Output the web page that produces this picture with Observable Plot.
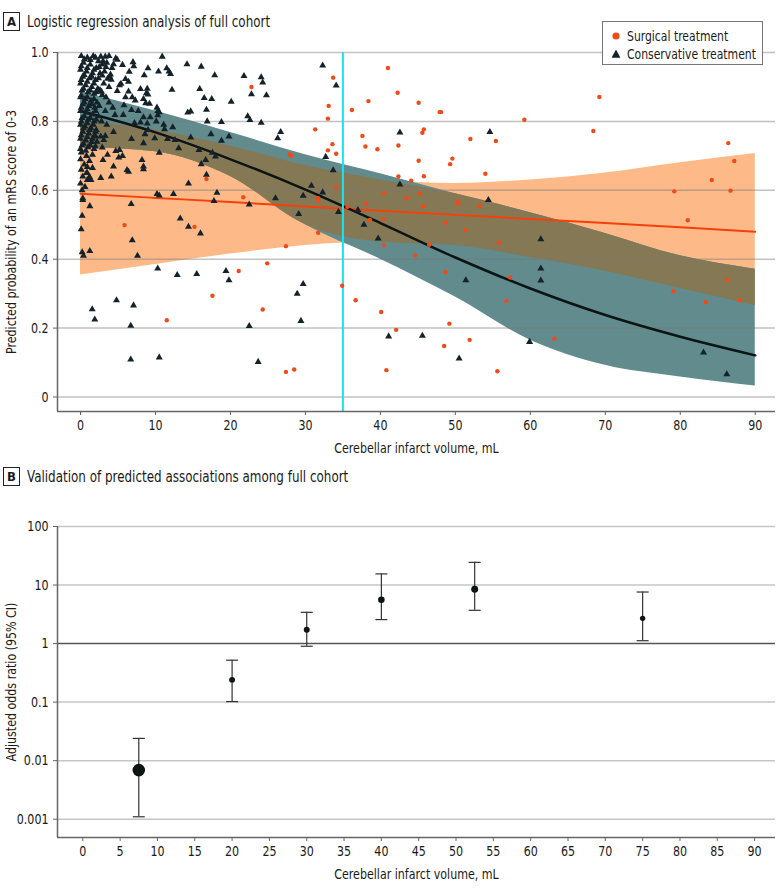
<!DOCTYPE html>
<html>
<head>
<meta charset="utf-8">
<script src="https://cdn.jsdelivr.net/npm/d3@7"></script>
<script src="https://cdn.jsdelivr.net/npm/@observablehq/plot@0.6"></script>
<style>
  body { margin: 0; background: #fff; }
  #page { position: relative; width: 780px; height: 892px; overflow: hidden;
          font-family: "Liberation Sans Narrow", "DejaVu Sans Condensed", Roboto, sans-serif; color: #1a1a1a; }
  .ptitle { position: absolute; left: 3px; display: flex; align-items: center; font-size: 15px; white-space: nowrap; }
  .ptitle .tag { box-sizing: border-box; width: 17px; height: 19px; border: 1.5px solid #222; font-weight: bold;
                 font-size: 13px; display: flex; align-items: center; justify-content: center; margin-right: 7px; }
  .ptitle .txt { display: inline-block; transform: scaleX(0.885); transform-origin: left center; }
  #legend { position: absolute; left: 602px; top: 21px; width: 161px; height: 44px; box-sizing: border-box;
            border: 1px solid #777; background: #fff; font-size: 14px; }
  #legend .row { position: absolute; left: 7px; display: flex; align-items: center; white-space: nowrap; }
  #legend .row span { display: inline-block; transform: scaleX(0.86); transform-origin: left center; }
  #legend svg { margin-right: 5px; }
  .chart { position: absolute; left: 0; }
</style>
</head>
<body>
<div id="page">
  <div class="ptitle" style="top:12px"><span class="tag">A</span><span class="txt">Logistic regression analysis of full cohort</span></div>
  <div class="chart" id="chartA" style="top:40px"></div>
  <div id="legend">
    <div class="row" style="top:6px"><svg width="12" height="12"><circle cx="6" cy="6" r="3.6" fill="#f04a18"></circle></svg><span>Surgical treatment</span></div>
    <div class="row" style="top:24px"><svg width="12" height="12"><path d="M6,1.6L10.4,9.8L1.6,9.8Z" fill="#14222a"></path></svg><span>Conservative treatment</span></div>
  </div>
  <div class="ptitle" style="top:467px"><span class="tag">B</span><span class="txt">Validation of predicted associations among full cohort</span></div>
  <div class="chart" id="chartB" style="top:506px"></div>
</div>
<script>
// ---------------- Panel A data ----------------
const xTicksA = [0, 10, 20, 30, 40, 50, 60, 70, 80, 90];
const yTicksA = [0, 0.2, 0.4, 0.6, 0.8, 1.0];
const xDomainA = [-3.07, 92.7];
const yDomainA = [-0.042, 1.0];
const thresholdVolume = 35;

const curveX = [0, 10, 20, 30, 40, 50, 60, 70, 80, 90];
const surgicalFit   = [0.590, 0.578, 0.566, 0.553, 0.541, 0.529, 0.517, 0.505, 0.493, 0.480];
const surgicalLower = [0.354, 0.385, 0.415, 0.440, 0.450, 0.440, 0.405, 0.365, 0.315, 0.265];
const surgicalUpper = [0.800, 0.775, 0.728, 0.672, 0.630, 0.620, 0.630, 0.650, 0.680, 0.707];
const conservativeFit   = [0.830, 0.768, 0.690, 0.602, 0.505, 0.405, 0.315, 0.238, 0.175, 0.121];
const conservativeLower = [0.725, 0.712, 0.640, 0.500, 0.400, 0.290, 0.165, 0.092, 0.058, 0.032];
const conservativeUpper = [0.885, 0.830, 0.768, 0.703, 0.648, 0.590, 0.535, 0.475, 0.410, 0.371];

const surgicalPoints = [
  [22.8,0.90],[27.9,0.705],[28.1,0.70],[16.8,0.633],[21.7,0.58],[15.2,0.494],[27.4,0.438],[24.9,0.388],
  [21.1,0.366],[17.6,0.294],[24.3,0.254],[27.4,0.073],[28.5,0.08],[5.87,0.499],[11.5,0.223],
  [41.0,0.955],[33.7,0.927],[42.3,0.883],[38.4,0.859],[45.1,0.854],[36.2,0.833],[33.1,0.845],[33.0,0.808],
  [47.9,0.827],[48.1,0.827],[59.2,0.805],[31.3,0.777],[45.8,0.777],[45.6,0.767],[37.6,0.758],[52.0,0.749],
  [55.4,0.743],[33.6,0.734],[38.0,0.727],[42.4,0.73],[33.0,0.716],[39.6,0.719],[34.1,0.706],[49.6,0.692],
  [49.3,0.676],[45.1,0.686],[54.0,0.648],[42.4,0.64],[45.8,0.641],[44.1,0.628],[34.1,0.608],[40.5,0.591],
  [45.2,0.591],[31.7,0.577],[31.7,0.57],[43.5,0.577],[38.1,0.562],[50.3,0.567],[50.4,0.561],[45.8,0.554],
  [53.2,0.555],[35.6,0.552],
  [38.6,0.514],[40.4,0.517],[48.7,0.506],[31.7,0.477],[51.3,0.485],[40.5,0.441],[46.5,0.442],[55.8,0.448],
  [44.6,0.411],[48.7,0.362],[57.3,0.347],[34.9,0.323],[36.7,0.281],[56.8,0.279],[40.1,0.247],[49.2,0.213],
  [42.1,0.195],[51.9,0.166],[48.5,0.148],[40.8,0.078],[55.6,0.075],
  [69.2,0.871],[68.4,0.772],[86.4,0.737],[87.2,0.685],[84.2,0.63],[79.2,0.597],[86.7,0.599],[81.0,0.513],
  [86.3,0.341],[79.1,0.307],[83.4,0.276],[87.9,0.281],[63.2,0.169]
];

const conservativePoints = [
  // dense column near 0 mL
  [0.1,0.99],[0.9,0.985],[1.7,0.99],[2.4,0.975],[0.4,0.97],[1.3,0.965],[2.1,0.955],
  [0.0,0.95],[0.8,0.945],[1.6,0.94],[2.6,0.94],[0.3,0.93],[1.2,0.925],[2.0,0.92],
  [0.0,0.91],[0.7,0.905],[1.5,0.90],[2.3,0.895],[0.2,0.89],[1.0,0.885],[1.8,0.88],
  [0.0,0.87],[0.6,0.865],[1.4,0.86],[2.2,0.855],[0.3,0.85],[1.1,0.845],[1.9,0.84],
  [0.0,0.83],[0.8,0.825],[1.6,0.82],[2.4,0.815],[0.2,0.81],[1.0,0.805],[1.8,0.80],
  [0.0,0.79],[0.6,0.785],[1.4,0.78],[2.1,0.775],[0.3,0.77],[1.1,0.765],[1.9,0.76],
  [0.0,0.75],[0.7,0.745],[1.5,0.74],[0.2,0.73],[1.0,0.725],[1.8,0.72],
  [0.1,0.71],[0.8,0.70],[0.0,0.69],[1.2,0.685],[0.5,0.675],[0.1,0.66],[0.9,0.65],[0.3,0.64],
  [1.4,0.63],[0.0,0.62],[0.6,0.61],[0.2,0.60],[3.0,0.975],[3.8,0.99],[2.9,0.965],
  [0.9,0.668],[1.6,0.665],[0.8,0.65],[1.2,0.639],[0.9,0.63],[2.7,0.636],[0.3,0.577],
  [0.5,0.98],[1.3,0.978],[2.0,0.985],[0.1,0.96],[0.9,0.955],[1.8,0.95],[0.5,0.935],[1.5,0.93],
  [2.4,0.925],[0.1,0.92],[0.9,0.915],[1.8,0.91],[0.4,0.895],[1.3,0.89],[2.1,0.885],[0.1,0.875],
  [0.9,0.87],[1.8,0.865],[0.5,0.855],[1.5,0.85],[2.5,0.845],[0.1,0.84],[0.9,0.835],[2.0,0.83],
  [0.5,0.815],[1.3,0.81],[2.1,0.805],[0.1,0.80],[0.9,0.795],[1.7,0.79],[0.4,0.78],[1.2,0.775],
  [2.0,0.77],[0.1,0.76],[0.9,0.755],[1.6,0.75],[0.4,0.735],[1.3,0.73],[0.0,0.72],[0.7,0.715],
  [3.5,0.97],[4.2,0.955],[3.2,0.945],[3.9,0.93],[3.1,0.91],[3.8,0.90],[3.4,0.87],[3.8,0.855],
  [3.3,0.83],[2.8,0.80],[3.5,0.79],
  // 2-15 mL
  [10.9,0.988],[14.2,0.966],[3.3,0.988],[2.7,0.988],[4.7,0.983],[4.9,0.979],[4.4,0.966],[5.6,0.964],
  [7.0,0.972],[9.0,0.954],[10.4,0.945],[11.5,0.954],[11.8,0.945],[12.0,0.938],[2.5,0.958],[3.4,0.958],
  [7.1,0.96],[2.9,0.933],[4.0,0.936],[6.5,0.944],[8.5,0.934],[3.6,0.924],[4.1,0.921],[6.0,0.923],
  [6.4,0.915],[5.4,0.909],[5.2,0.905],[12.2,0.892],[8.9,0.895],[8.0,0.894],[2.6,0.891],[2.8,0.886],
  [4.9,0.888],[6.4,0.887],[8.8,0.882],[9.0,0.878],[2.9,0.877],[6.0,0.870],[6.9,0.870],[7.3,0.861],
  [8.4,0.865],[8.7,0.853],[9.2,0.851],[5.8,0.847],[6.8,0.833],[7.7,0.83],[10.5,0.827],[14.3,0.826],
  [4.3,0.84],[4.6,0.819],[5.7,0.819],[8.4,0.812],[9.3,0.812],[8.0,0.797],[8.9,0.794],[7.2,0.795],
  [10.1,0.80],[11.1,0.79],[9.0,0.775],[12.3,0.783],[11.2,0.777],[8.6,0.763],[9.9,0.751],[11.6,0.749],
  [12.6,0.746],[13.1,0.722],[6.8,0.749],[10.5,0.709],[8.4,0.737],[2.0,0.756],[2.7,0.756],[3.3,0.758],
  [4.4,0.769],[3.1,0.746],[2.2,0.741],[2.9,0.724],[2.0,0.727],[4.7,0.714],[5.2,0.717],[5.1,0.695],
  [5.6,0.70],[3.6,0.703],[3.0,0.688],[1.6,0.703],[8.2,0.688],[8.4,0.669],[8.4,0.661],[4.4,0.669],
  [6.2,0.659],[6.4,0.654],[4.1,0.64],[14.4,0.62],[10.2,0.589],[10.5,0.585],[12.4,0.589],[10.2,0.84],
  [10.3,0.83],[10.3,0.818],
  [0.3,0.572],[1.24,0.554],[6.76,0.56],[0.22,0.526],[13.3,0.518],[14.4,0.494],[0.09,0.487],[6.9,0.455],
  [0.22,0.42],[1.24,0.424],[0.4,0.41],[7.6,0.41],[10.3,0.373],[12.9,0.354],[4.8,0.281],[1.56,0.255],
  [7.07,0.266],[1.9,0.225],[6.7,0.207],[6.7,0.109],[10.5,0.115],
  // 15-30 mL
  [16.1,0.959],[17.9,0.934],[21.8,0.932],[24.1,0.928],[24.3,0.913],[15.9,0.894],[22.8,0.879],[16.5,0.868],
  [17.5,0.865],[24.8,0.876],[20.1,0.857],[14.7,0.829],[16.8,0.834],[22.3,0.815],[22.6,0.804],[16.9,0.80],
  [18.8,0.798],[24.1,0.796],[26.7,0.769],[26.3,0.751],[17.4,0.763],[14.7,0.753],[19.8,0.756],[18.8,0.744],
  [15.8,0.717],[17.6,0.709],[18.0,0.698],[16.7,0.688],[16.1,0.676],[16.8,0.645],[18.2,0.593],[17.8,0.569],
  [22.5,0.559],[26.0,0.577],[29.7,0.584],[29.1,0.531],[16.0,0.475],[15.5,0.357],[19.4,0.366],[19.8,0.339],
  [29.7,0.328],[28.9,0.30],[29.4,0.221],[22.5,0.206],[23.7,0.102],
  // > 30 mL
  [32.3,0.962],[34.1,0.904],[42.6,0.768],[54.6,0.769],[32.7,0.697],[33.7,0.658],[30.8,0.613],[32.3,0.594],
  [42.6,0.617],[54.4,0.572],[34.4,0.537],[37.0,0.543],
  [37.8,0.50],[39.7,0.46],[51.4,0.339],[61.4,0.458],[61.4,0.373],[61.4,0.338],[41.1,0.176],[45.6,0.178],
  [50.5,0.112],[59.9,0.16],[83.1,0.129],[86.2,0.066]
];

// ---------------- Panel B data ----------------
const xTicksB = [0, 5, 10, 15, 20, 25, 30, 35, 40, 45, 50, 55, 60, 65, 70, 75, 80, 85, 90];
const yTicksB = [0.001, 0.01, 0.1, 1, 10, 100];
const xDomainB = [-3.39, 92.8];
const yDomainB = [0.000487, 100];
const referenceOR = 1;
const oddsVolume = [7.5, 20, 30, 40, 52.5, 75];
const oddsRatio  = [0.0069, 0.24, 1.73, 5.6, 8.5, 2.7];
const ciLow      = [0.0011, 0.102, 0.90, 2.57, 3.7, 1.12];
const ciHigh     = [0.024, 0.52, 3.42, 15.5, 24.4, 7.6];
const oddsWeight = [40, 9, 9, 11, 12.3, 7.3];

// ---------------- Styling ----------------
const FONT = '"Liberation Sans Narrow", "DejaVu Sans Condensed", Roboto, sans-serif';
const ORANGE_BAND = "#fdba88";
const TEAL_BAND = "#618b8d";
const OVERLAP_BAND = "#857955";
const ORANGE = "#f04a18";
const DARK = "#14222a";

// narrow every svg text along its reading direction (keeps its anchor point)
function narrowText(svg, k) {
  svg.querySelectorAll("text").forEach(t => {
    const tr = t.getAttribute("transform");
    if (tr) {
      t.setAttribute("transform", tr + ` scale(${k},1)`);
    } else {
      const x = +(t.getAttribute("x") || 0), y = +(t.getAttribute("y") || 0);
      t.removeAttribute("x"); t.removeAttribute("y");
      t.setAttribute("transform", `translate(${x},${y}) scale(${k},1)`);
    }
  });
  return svg;
}

const bandRows = curveX.map((x, i) => ({
  x,
  sFit: surgicalFit[i], sLo: surgicalLower[i], sHi: surgicalUpper[i],
  cFit: conservativeFit[i], cLo: conservativeLower[i], cHi: conservativeUpper[i],
  oLo: Math.max(surgicalLower[i], conservativeLower[i]),
  oHi: Math.min(surgicalUpper[i], conservativeUpper[i])
}));
const surgical = surgicalPoints.map(([x, y]) => ({x, y}));
const conservative = conservativePoints.map(([x, y]) => ({x, y}));

const chartA = Plot.plot({
  width: 780, height: 418,
  marginLeft: 57, marginRight: 5, marginTop: 12, marginBottom: 47,
  x: {domain: xDomainA},
  y: {domain: yDomainA},
  style: {fontFamily: FONT, fontSize: "14px", color: "#1a1a1a", background: "transparent"},
  marks: [
    Plot.areaY(bandRows, {x: "x", y1: "sLo", y2: "sHi", fill: ORANGE_BAND, curve: "monotone-x"}),
    Plot.areaY(bandRows, {x: "x", y1: "cLo", y2: "cHi", fill: TEAL_BAND, curve: "monotone-x"}),
    Plot.areaY(bandRows, {x: "x", y1: "oLo", y2: "oHi", fill: OVERLAP_BAND, curve: "monotone-x"}),
    Plot.ruleY(yTicksA, {stroke: "#777", strokeOpacity: 0.45, strokeWidth: 1.5}),
    Plot.lineY(bandRows, {x: "x", y: "sFit", stroke: "#f5400c", strokeWidth: 2, curve: "monotone-x"}),
    Plot.lineY(bandRows, {x: "x", y: "cFit", stroke: "#0d1414", strokeWidth: 2.5, curve: "monotone-x"}),
    Plot.ruleX([thresholdVolume], {stroke: "#1de3ef", strokeWidth: 2}),
    Plot.dot(conservative, {x: "x", y: "y", symbol: "triangle", r: 2.6, fill: DARK}),
    Plot.dot(surgical, {x: "x", y: "y", r: 2.2, fill: ORANGE}),
    Plot.ruleX([xDomainA[0]], {stroke: "#666", strokeWidth: 1.5}),
    Plot.ruleY([yDomainA[0]], {stroke: "#666", strokeWidth: 1.5}),
    Plot.axisY({ticks: yTicksA, tickFormat: d => d === 0 ? "0" : d.toFixed(1), tickSize: 4, stroke: "#666",
                label: "Predicted probability of an mRS score of 0-3", labelAnchor: "center", labelOffset: 51, labelArrow: "none"}),
    Plot.axisX({ticks: xTicksA, tickFormat: d => String(d), tickSize: 4, stroke: "#666",
                label: "Cerebellar infarct volume, mL", labelAnchor: "center", labelOffset: 41, labelArrow: "none"})
  ]
});
document.getElementById("chartA").appendChild(narrowText(chartA, 0.88));

const rowsB = oddsVolume.map((x, i) => ({x, or: oddsRatio[i], lo: ciLow[i], hi: ciHigh[i], w: oddsWeight[i]}));
const capSymbol = { draw(context) { context.moveTo(-6, 0); context.lineTo(6, 0); } };

const chartB = Plot.plot({
  width: 780, height: 386,
  marginLeft: 57, marginRight: 5, marginTop: 20, marginBottom: 55,
  x: {domain: xDomainB},
  y: {type: "log", domain: yDomainB},
  r: {type: "sqrt", domain: [0, 40], range: [0, 6.3]},
  style: {fontFamily: FONT, fontSize: "14px", color: "#1a1a1a", background: "transparent"},
  marks: [
    Plot.ruleY(yTicksB.filter(v => v !== referenceOR), {stroke: "#c6c6c6", strokeWidth: 1.5}),
    Plot.ruleY([referenceOR], {stroke: "#555", strokeWidth: 1.5}),
    Plot.ruleX(rowsB, {x: "x", y1: "lo", y2: "hi", stroke: "#333", strokeWidth: 1.2}),
    Plot.dot(rowsB, {x: "x", y: "lo", symbol: capSymbol, fill: "none", stroke: "#333", strokeWidth: 1.2}),
    Plot.dot(rowsB, {x: "x", y: "hi", symbol: capSymbol, fill: "none", stroke: "#333", strokeWidth: 1.2}),
    Plot.dot(rowsB, {x: "x", y: "or", r: "w", fill: "#0d1414"}),
    Plot.ruleX([xDomainB[0]], {stroke: "#666", strokeWidth: 1.5}),
    Plot.ruleY([yDomainB[0]], {stroke: "#666", strokeWidth: 1.5}),
    Plot.axisY({ticks: yTicksB, tickFormat: d => String(d), tickSize: 4, stroke: "#666",
                label: "Adjusted odds ratio (95% CI)", labelAnchor: "center", labelOffset: 51, labelArrow: "none"}),
    Plot.axisX({ticks: xTicksB, tickFormat: d => String(d), tickSize: 4, stroke: "#666",
                label: "Cerebellar infarct volume, mL", labelAnchor: "center", labelOffset: 41, labelArrow: "none"})
  ]
});
document.getElementById("chartB").appendChild(narrowText(chartB, 0.88));
</script>
</body>
</html>
